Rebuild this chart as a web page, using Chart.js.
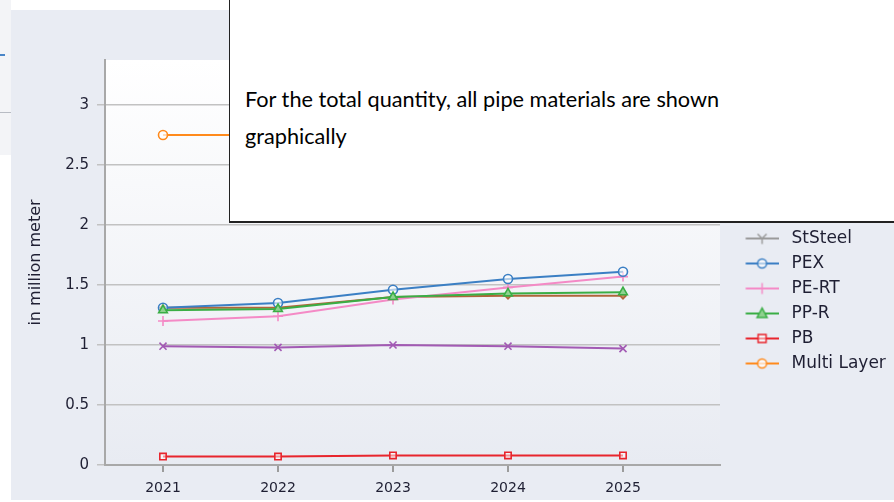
<!DOCTYPE html>
<html>
<head>
<meta charset="utf-8">
<script src="https://cdn.jsdelivr.net/npm/chart.js@4.4.1/dist/chart.umd.min.js"></script>
<style>
  html, body { margin: 0; padding: 0; background: #fff; }
  body { width: 894px; height: 502px; position: relative; overflow: hidden; }
  #side { position: absolute; left: 0; top: 0; width: 11px; height: 155px; background: #f3f4f7; }
  #side .blue { position: absolute; left: 0; top: 54px; width: 5px; height: 2px; background: #4a86c8; }
  #side .grey { position: absolute; left: 0; top: 112px; width: 11px; height: 1px; background: #b8bcc4; }
  #panel { position: absolute; left: 11px; top: 10px; right: 0; height: 490px; background: #e9ecf3; }
  #chart { position: absolute; left: 0; top: 0; }
  #note {
    position: absolute; left: 229px; top: 0; width: 665px; height: 223px;
    background: #fff; border-left: 1px solid #222; border-bottom: 2px solid #222;
    box-sizing: border-box; padding: 81px 0 0 15px;
    font-family: Lato, "Open Sans", sans-serif; font-size: 21.7px; line-height: 37px; color: #000;
  }
</style>
</head>
<body>
<div id="side"><div class="blue"></div><div class="grey"></div></div>
<div id="panel"></div>
<canvas id="chart" width="894" height="502"></canvas>
<div id="note">For the total quantity, all pipe materials are shown<br>graphically</div>
<script>
// values (million meter)
const years = [2021, 2022, 2023, 2024, 2025];
const yTicks = [0, 0.5, 1, 1.5, 2, 2.5, 3];

const copper     = [1.31, 1.31, 1.40, 1.41, 1.41];
const steel      = [0.99, 0.98, 1.00, 0.99, 0.97];
const stSteel    = [null, null, null, null, null];
const pex        = [1.31, 1.35, 1.46, 1.55, 1.61];
const peRt       = [1.20, 1.24, 1.38, 1.48, 1.57];
const ppR        = [1.29, 1.30, 1.40, 1.43, 1.44];
const pb         = [0.07, 0.07, 0.08, 0.08, 0.08];
const multiLayer = [2.75, 2.75, null, null, null];

const font = 'DejaVu Sans';
const textColor = '#1f1f33';

function pts(arr) { return years.map((x, i) => ({ x, y: arr[i] })); }

// small line+marker pictures for the legend
function legendIcon(color, style, fill) {
  const c = document.createElement('canvas');
  c.width = 46; c.height = 16;
  const g = c.getContext('2d');
  const cx = 29.6, cy = 8, r = 4.5;
  g.strokeStyle = color; g.lineWidth = 2;
  g.beginPath(); g.moveTo(13.2, cy); g.lineTo(46, cy); g.stroke();
  g.fillStyle = fill; g.lineWidth = 1.5;
  g.beginPath();
  switch (style) {
    case 'circle': g.arc(cx, cy, r, 0, Math.PI * 2); g.fill(); g.stroke(); break;
    case 'rect': g.rect(cx - r + 0.5, cy - r + 0.5, 2 * r - 1, 2 * r - 1); g.fill(); g.stroke(); break;
    case 'triangle':
      g.moveTo(cx, cy - r - 1); g.lineTo(cx + r + 0.5, cy + r - 0.5); g.lineTo(cx - r - 0.5, cy + r - 0.5);
      g.closePath(); g.fill(); g.stroke(); break;
    case 'cross': g.moveTo(cx, cy - r - 1); g.lineTo(cx, cy + r + 1); g.stroke(); break;
    case 'crossRot':
      g.moveTo(cx - r, cy - r); g.lineTo(cx + r, cy + r); g.moveTo(cx + r, cy - r); g.lineTo(cx - r, cy + r); g.stroke(); break;
    case 'rectRot':
      g.moveTo(cx, cy - r); g.lineTo(cx + r, cy); g.lineTo(cx, cy + r); g.lineTo(cx - r, cy); g.closePath(); g.fill(); g.stroke(); break;
    case 'tri':
      g.moveTo(cx, cy); g.lineTo(cx, cy + r + 1); g.moveTo(cx, cy); g.lineTo(cx - r, cy - r); g.moveTo(cx, cy); g.lineTo(cx + r, cy - r); g.stroke(); break;
  }
  return c;
}

function series(label, data, color, style, fill, radius, order) {
  return {
    label, data: pts(data), order,
    borderColor: color, backgroundColor: color, borderWidth: 2,
    pointStyle: style === 'tri' ? 'star' : style, pointRadius: radius, pointBorderWidth: 1.6,
    pointBorderColor: color, pointBackgroundColor: fill,
    legendIcon: legendIcon(color, style, fill)
  };
}

const datasets = [
  series('Copper',      copper,     '#b0653a', 'rectRot',  '#c98a5e', 3,   6),
  series('Steel',       steel,      '#a25ab4', 'crossRot', '#a25ab4', 5,   7),
  series('StSteel',     stSteel,    '#9a9a9a', 'tri',      '#9a9a9a', 4,   8),
  series('PEX',         pex,        '#3b7fc4', 'circle',   'rgba(255,255,255,0.6)', 4.5, 2),
  series('PE-RT',       peRt,       '#f48ac6', 'cross',    '#f48ac6', 5,   3),
  series('PP-R',        ppR,        '#3aae45', 'triangle', '#8fd18f', 5,   1),
  series('PB',          pb,         '#e8252d', 'rect',     'rgba(255,255,255,0.5)', 4.5, 4),
  series('Multi Layer', multiLayer, '#ff8a1c', 'circle',   'rgba(255,255,255,0.7)', 4.5, 5)
];

// gradient behind the plot area
const plotBg = {
  id: 'plotBg',
  beforeDraw(chart) {
    const { ctx, chartArea: a } = chart;
    const g = ctx.createLinearGradient(0, a.top, 0, a.bottom);
    g.addColorStop(0, '#ffffff');
    g.addColorStop(1, '#e8ebf2');
    ctx.save();
    ctx.fillStyle = g;
    ctx.fillRect(a.left, a.top, a.right - a.left, a.bottom - a.top);
    ctx.restore();
  }
};

// fixed legend width so the plot ends where the picture's does
const legendFit = {
  id: 'legendFit',
  beforeInit(chart) {
    const fit = chart.legend.fit;
    chart.legend.fit = function () { fit.call(this); this.width = 174; };
  }
};

new Chart(document.getElementById('chart'), {
  type: 'line',
  data: { datasets },
  plugins: [plotBg, legendFit],
  options: {
    responsive: false,
    animation: false,
    devicePixelRatio: 1,
    layout: { padding: { left: 0, top: 60, right: 0, bottom: 0 } },
    elements: { line: { tension: 0 } },
    plugins: {
      tooltip: { enabled: false },
      legend: {
        position: 'right',
        align: 'start',
        fullSize: false,
        title: { display: true, text: ' ', font: { size: 10, lineHeight: 1 }, padding: { top: 102, bottom: 0 } },
        labels: {
          usePointStyle: true,
          pointStyleWidth: 55,
          padding: 8,
          color: textColor,
          font: { family: font, size: 17 },
          sort: (a, b) => a.datasetIndex - b.datasetIndex,
          generateLabels(chart) {
            return Chart.defaults.plugins.legend.labels.generateLabels(chart)
              .map(l => ({ ...l, pointStyle: chart.data.datasets[l.datasetIndex].legendIcon }));
          }
        }
      }
    },
    scales: {
      x: {
        type: 'linear',
        min: 2020.4957,
        max: 2025.8435,
        afterBuildTicks: s => { s.ticks = years.map(v => ({ value: v })); },
        afterFit: s => { s.height = 37; },
        border: { color: '#a8a8a8', width: 2 },
        grid: { drawOnChartArea: false, drawTicks: true, tickLength: 7, color: '#9c9c9c', lineWidth: 2 },
        ticks: { color: textColor, font: { family: font, size: 14 }, padding: 8, callback: v => String(v) }
      },
      y: {
        min: 0,
        max: 3.375,
        afterBuildTicks: s => { s.ticks = yTicks.map(v => ({ value: v })); },
        afterFit: s => { s.width = 105; },
        border: { color: '#a8a8a8', width: 2 },
        grid: { color: '#c2c2c2', lineWidth: 1.5, tickLength: 8 },
        ticks: { color: textColor, font: { family: font, size: 15 }, padding: 8, callback: v => String(v) },
        title: { display: true, text: 'in million meter', color: textColor, font: { family: font, size: 16 }, padding: { top: 26, bottom: 0 } }
      }
    }
  }
});
</script>
</body>
</html>
